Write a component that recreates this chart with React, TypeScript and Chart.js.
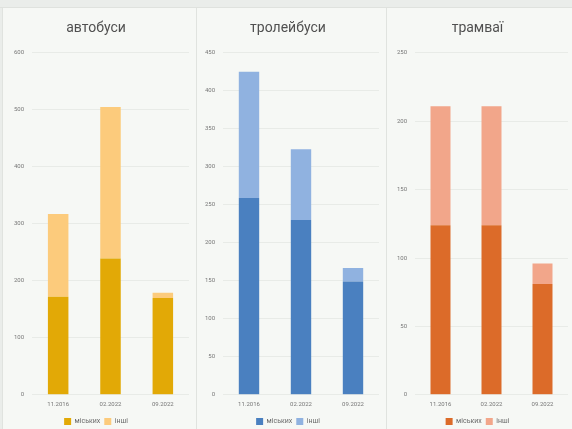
import React, { useEffect, useRef } from "react";
import { Chart, registerables } from "chart.js";

Chart.register(...registerables);

// Shared categories and series names
const categories = ["11.2016", "02.2022", "09.2022"];
const seriesNames = ["міських", "інші"];

// Buses
const busTitle = "автобуси";
const busCity = [172, 239, 170];
const busOther = [145, 266, 9];
const busMax = 600;
const busStep = 100;

// Trolleybuses
const trolleyTitle = "тролейбуси";
const trolleyCity = [259, 230, 149];
const trolleyOther = [166, 93, 18];
const trolleyMax = 450;
const trolleyStep = 50;

// Trams
const tramTitle = "трамваї";
const tramCity = [124, 124, 81];
const tramOther = [87, 87, 15];
const tramMax = 250;
const tramStep = 50;

const FONT = "Roboto, 'Open Sans', sans-serif";
const CANVAS_H = 428;

type PanelProps = {
  title: string;
  city: number[];
  other: number[];
  max: number;
  step: number;
  dark: string;
  light: string;
  left: number;
  width: number;
  axisWidth: number;
  padRight: number;
};

function Panel(p: PanelProps) {
  const ref = useRef<HTMLCanvasElement | null>(null);
  useEffect(() => {
    if (!ref.current) return;
    const chart = new Chart(ref.current, {
      type: "bar",
      data: {
        labels: categories,
        datasets: [
          {
            label: seriesNames[0],
            data: p.city,
            backgroundColor: p.dark,
            categoryPercentage: 0.8,
            barPercentage: 0.49,
          },
          {
            label: seriesNames[1],
            data: p.other,
            backgroundColor: p.light,
            categoryPercentage: 0.8,
            barPercentage: 0.49,
          },
        ],
      },
      options: {
        animation: false,
        responsive: false,
        maintainAspectRatio: false,
        layout: { padding: { left: 0, right: p.padRight, top: 0, bottom: 1 } },
        plugins: {
          title: {
            display: true,
            text: p.title,
            color: "#505050",
            font: { family: FONT, size: 14, weight: "normal" },
            padding: { top: 12, bottom: 16 },
          },
          legend: {
            position: "bottom",
            labels: {
              color: "#6a6a6a",
              font: { family: FONT, size: 7 },
              boxWidth: 7,
              boxHeight: 7,
              padding: 4,
            },
          },
          tooltip: { enabled: false },
        },
        scales: {
          x: {
            stacked: true,
            grid: { display: false, drawTicks: false },
            border: { display: false },
            ticks: {
              color: "#777",
              font: { family: FONT, size: 6 },
              padding: 6,
              maxRotation: 0,
            },
          },
          y: {
            stacked: true,
            min: 0,
            max: p.max,
            border: { display: false },
            grid: { color: "#e8ebe7", drawTicks: false },
            ticks: {
              stepSize: p.step,
              color: "#777",
              font: { family: FONT, size: 6 },
              padding: 8,
            },
            afterFit: (scale: any) => {
              scale.width = p.axisWidth;
            },
          },
        },
      },
    });
    return () => chart.destroy();
  }, []);
  return (
    <div
      style={{
        position: "absolute",
        left: p.left,
        top: 8,
        width: p.width,
        height: 421,
        background: "#f6f8f5",
        borderLeft: "1px solid #e0e3df",
        boxSizing: "border-box",
        overflow: "hidden",
      }}
    >
      <canvas ref={ref} width={p.width - 1} height={CANVAS_H} style={{ display: "block" }} />
    </div>
  );
}

export default function App() {
  return (
    <div
      style={{
        position: "fixed",
        left: 0,
        top: 0,
        width: 572,
        height: 429,
        background: "#eaedea",
        overflow: "hidden",
      }}
    >
      <div style={{ position: "absolute", left: 0, top: 7, width: 572, height: 1, background: "#dfe2de" }} />
      <Panel title={busTitle} city={busCity} other={busOther} max={busMax} step={busStep}
        dark="#e2a906" light="#fccb7c" left={2} width={194} axisWidth={29} padRight={7} />
      <Panel title={trolleyTitle} city={trolleyCity} other={trolleyOther} max={trolleyMax} step={trolleyStep}
        dark="#4a80c0" light="#90b2e0" left={196} width={190} axisWidth={26} padRight={7} />
      <Panel title={tramTitle} city={tramCity} other={tramOther} max={tramMax} step={tramStep}
        dark="#dc6b29" light="#f2a68a" left={386} width={186} axisWidth={28} padRight={4} />
    </div>
  );
}
